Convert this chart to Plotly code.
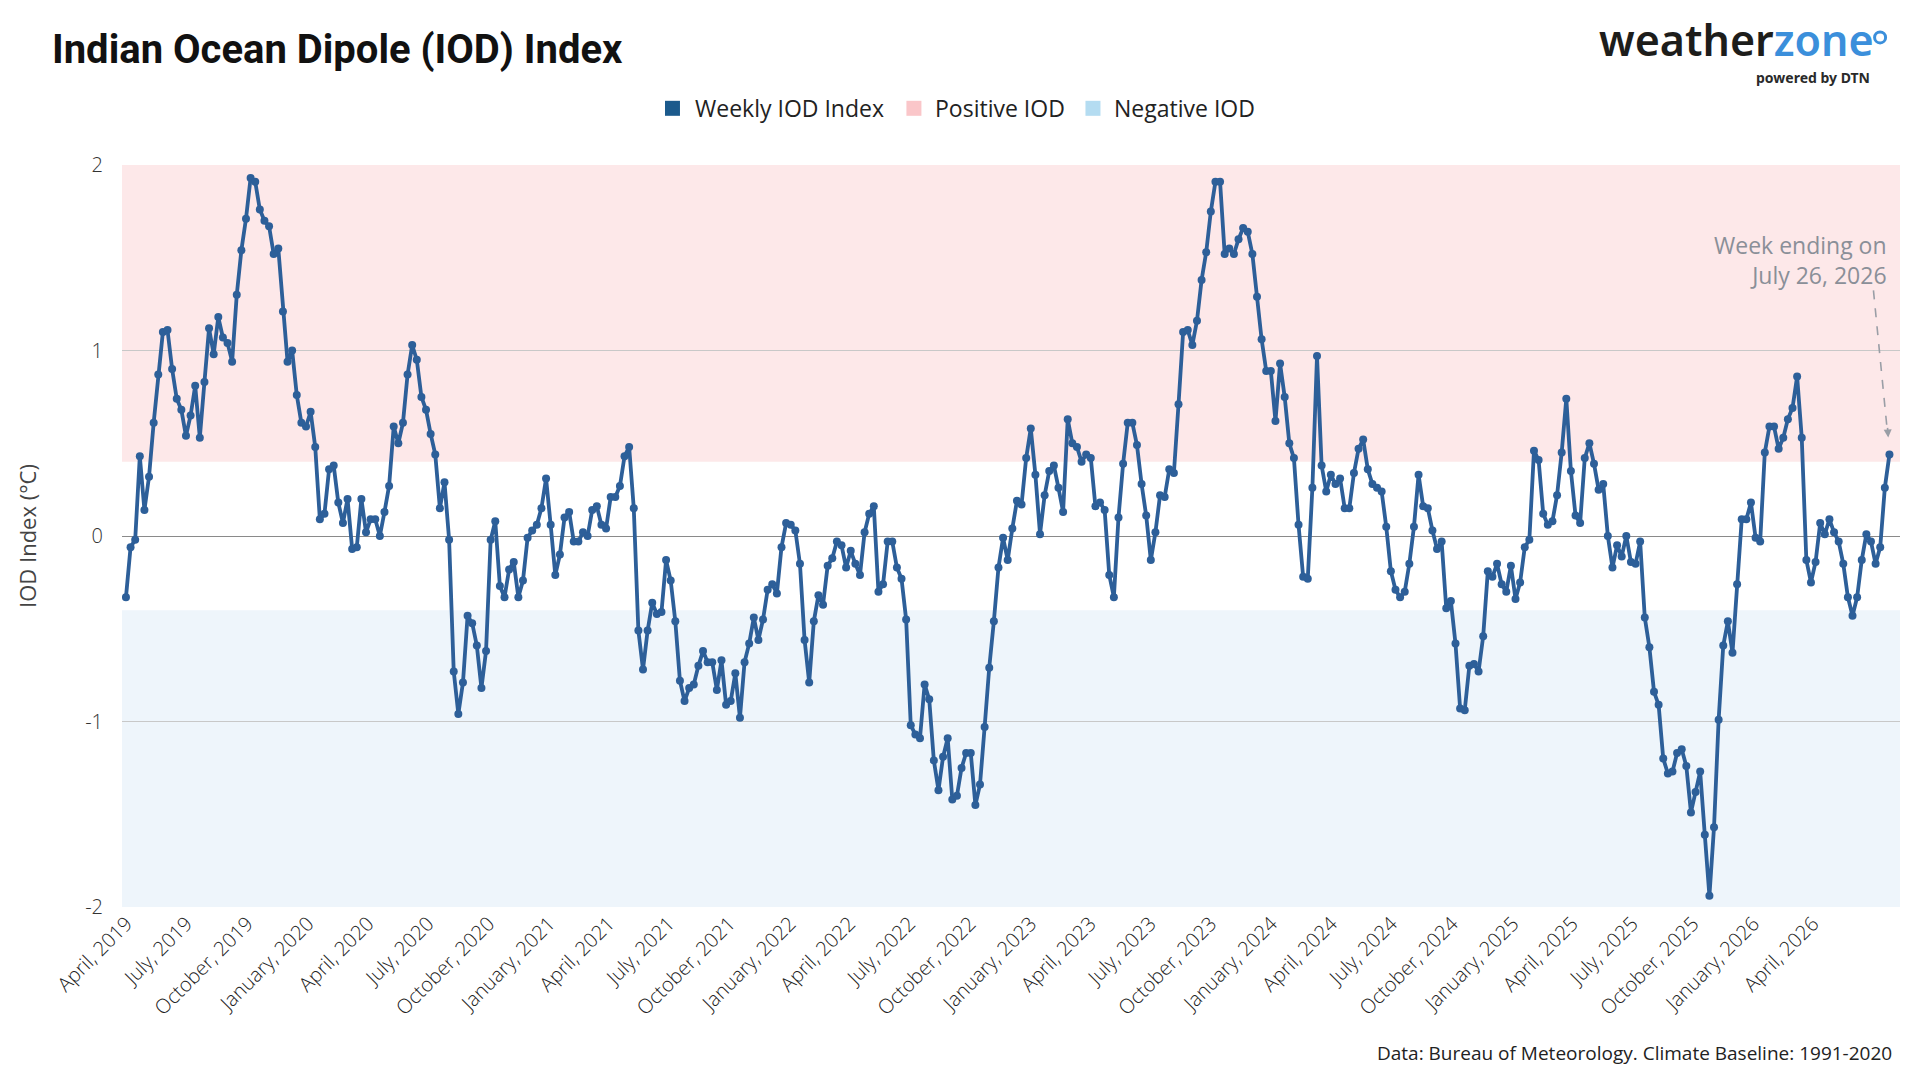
import pandas as pd
import plotly.graph_objects as go

# ---- Weekly IOD index values (°C), grouped by calendar year of the week-ending date ----
iod_2019 = [-0.33, -0.06, -0.02, 0.43, 0.14, 0.32, 0.61, 0.87, 1.10, 1.11,
            0.90, 0.74, 0.68, 0.54, 0.65, 0.81, 0.53, 0.83, 1.12, 0.98,
            1.18, 1.07, 1.04, 0.94, 1.30, 1.54, 1.71, 1.93, 1.91, 1.76,
            1.70, 1.67, 1.52, 1.55, 1.21, 0.94, 1.00, 0.76, 0.61, 0.59]
iod_2020 = [0.67, 0.48, 0.09, 0.12, 0.36, 0.38, 0.18, 0.07, 0.20, -0.07,
            -0.06, 0.20, 0.02, 0.09, 0.09, 0.00, 0.13, 0.27, 0.59, 0.50,
            0.61, 0.87, 1.03, 0.95, 0.75, 0.68, 0.55, 0.44, 0.15, 0.29,
            -0.02, -0.73, -0.96, -0.79, -0.43, -0.47, -0.59, -0.82, -0.62, -0.02,
            0.08, -0.27, -0.33, -0.18, -0.14, -0.33, -0.24, -0.01, 0.03, 0.06,
            0.15, 0.31]
iod_2021 = [0.06, -0.21, -0.10, 0.10, 0.13, -0.03, -0.03, 0.02,
            0.00, 0.14, 0.16, 0.06, 0.04, 0.21, 0.21, 0.27, 0.43, 0.48,
            0.15, -0.51, -0.72, -0.51, -0.36, -0.42, -0.41, -0.13, -0.24, -0.46,
            -0.78, -0.89, -0.82, -0.80, -0.70, -0.62, -0.68, -0.68, -0.83, -0.67,
            -0.91, -0.89, -0.74, -0.98, -0.68, -0.58, -0.44, -0.56, -0.45, -0.29,
            -0.26, -0.31, -0.06, 0.07]
iod_2022 = [0.06, 0.03, -0.15, -0.56, -0.79, -0.46,
            -0.32, -0.37, -0.16, -0.12, -0.03, -0.05, -0.17, -0.08, -0.15, -0.21,
            0.02, 0.12, 0.16, -0.30, -0.26, -0.03, -0.03, -0.17, -0.23, -0.45,
            -1.02, -1.07, -1.09, -0.80, -0.88, -1.21, -1.37, -1.19, -1.09, -1.42,
            -1.40, -1.25, -1.17, -1.17, -1.45, -1.34, -1.03, -0.71, -0.46, -0.17,
            -0.01, -0.13, 0.04, 0.19, 0.17, 0.42]
iod_2023 = [0.58, 0.33, 0.01, 0.22,
            0.35, 0.38, 0.26, 0.13, 0.63, 0.50, 0.48, 0.40, 0.44, 0.42,
            0.16, 0.18, 0.14, -0.21, -0.33, 0.10, 0.39, 0.61, 0.61, 0.49,
            0.28, 0.11, -0.13, 0.02, 0.22, 0.21, 0.36, 0.34, 0.71, 1.10,
            1.11, 1.03, 1.16, 1.38, 1.53, 1.75, 1.91, 1.91, 1.52, 1.55,
            1.52, 1.60, 1.66, 1.64, 1.52, 1.29, 1.06, 0.89, 0.89]
iod_2024 = [0.62,
            0.93, 0.75, 0.50, 0.42, 0.06, -0.22, -0.23, 0.26, 0.97, 0.38,
            0.24, 0.33, 0.28, 0.31, 0.15, 0.15, 0.34, 0.47, 0.52, 0.36,
            0.28, 0.26, 0.24, 0.05, -0.19, -0.29, -0.33, -0.30, -0.15, 0.05,
            0.33, 0.16, 0.15, 0.03, -0.07, -0.03, -0.39, -0.35, -0.58, -0.93,
            -0.94, -0.70, -0.69, -0.73, -0.54, -0.19, -0.22, -0.15, -0.26, -0.30,
            -0.16]
iod_2025 = [-0.34, -0.25, -0.06, -0.02, 0.46, 0.41, 0.12, 0.06, 0.08,
            0.22, 0.45, 0.74, 0.35, 0.11, 0.07, 0.42, 0.50, 0.39, 0.25,
            0.28, 0.00, -0.17, -0.05, -0.11, 0.00, -0.14, -0.15, -0.03, -0.44,
            -0.60, -0.84, -0.91, -1.20, -1.28, -1.27, -1.17, -1.15, -1.24, -1.49,
            -1.38, -1.27, -1.61, -1.94, -1.57, -0.99, -0.59, -0.46, -0.63, -0.26,
            0.09, 0.09, 0.18]
iod_2026 = [-0.01, -0.03, 0.45, 0.59, 0.59, 0.47, 0.53,
            0.63, 0.69, 0.86, 0.53, -0.13, -0.25, -0.14, 0.07, 0.01, 0.09,
            0.02, -0.03, -0.15, -0.33, -0.43, -0.33, -0.13, 0.01, -0.03, -0.15,
            -0.06, 0.26, 0.44]

iod_values = iod_2019 + iod_2020 + iod_2021 + iod_2022 + iod_2023 + iod_2024 + iod_2025 + iod_2026
last_week_ending = "2026-07-26"
week_ending = pd.date_range(end=last_week_ending, periods=len(iod_values), freq="7D")

positive_threshold = 0.4
negative_threshold = -0.4
y_tick_values = [-2, -1, 0, 1, 2]
y_tick_labels = ["-2", "-1", "0", "1", "2"]
x_tick_dates = pd.date_range("2019-04-01", "2026-04-01", freq="QS")
x_tick_labels = [f"{d.strftime('%B')}, {d.year}" for d in x_tick_dates]

legend_names = ["Weekly IOD Index", "Positive IOD", "Negative IOD"]
legend_colors = ["#1b5a8c", "#fac6c9", "#b4dcf1"]

line_color = "#2d5f99"
pink_band = "#fde8e9"
blue_band = "#eef5fb"
grey_text = "#8a8f98"

fig = go.Figure()

fig.add_trace(go.Scatter(
    x=week_ending, y=iod_values, mode="lines+markers", name="Weekly IOD Index",
    line=dict(color=line_color, width=3.8),
    marker=dict(color=line_color, size=8),
    showlegend=False, hoverinfo="x+y",
))

# bands
fig.add_shape(type="rect", xref="paper", yref="y", x0=0, x1=1, y0=positive_threshold, y1=2,
              fillcolor=pink_band, line=dict(width=0), layer="below")
fig.add_shape(type="rect", xref="paper", yref="y", x0=0, x1=1, y0=-2, y1=negative_threshold,
              fillcolor=blue_band, line=dict(width=0), layer="below")

# legend (square swatches + labels, laid out like the original)
legend_swatch_x = [0.3096, 0.4454, 0.5461]
legend_text_x = [0.3211, 0.4561, 0.5568]
legend_y = 1.0764
for name, col, sx, tx in zip(legend_names, legend_colors, legend_swatch_x, legend_text_x):
    fig.add_shape(type="rect", xref="paper", yref="paper", xsizemode="pixel", ysizemode="pixel",
                  xanchor=sx, yanchor=legend_y, x0=-7.5, x1=7.5, y0=-7.5, y1=7.5,
                  fillcolor=col, line=dict(width=0))
    fig.add_annotation(xref="paper", yref="paper", x=tx, y=legend_y, xanchor="left", yanchor="middle",
                       text=name, showarrow=False,
                       font=dict(family="Open Sans", size=23, color="#222222"))

last_x = week_ending[-1]
last_y = iod_values[-1]

# dashed pointer to the latest week
fig.add_shape(type="line", xref="x", yref="y", xsizemode="pixel", ysizemode="pixel",
              xanchor=last_x, yanchor=last_y, x0=-16, x1=-2, y0=164, y1=22,
              line=dict(color="#9a9ea6", width=1.6, dash="dash"))
fig.add_annotation(x=last_x, y=last_y, xref="x", yref="y", text="", showarrow=True,
                   arrowhead=2, arrowsize=1, arrowwidth=1.6, arrowcolor="#9a9ea6",
                   ax=-2, ay=-28, standoff=17)
fig.add_annotation(x=last_x, y=1.49, xref="x", yref="y", xanchor="right", yanchor="middle",
                   text="Week ending on<br>July 26, 2026", align="right", showarrow=False,
                   font=dict(family="Open Sans", size=23, color=grey_text))

# title
fig.add_annotation(xref="paper", yref="paper", x=-0.0405, y=1.155, xanchor="left", yanchor="middle",
                   text="<b>Indian Ocean Dipole (IOD) Index</b>", showarrow=False,
                   font=dict(family="Liberation Sans Narrow, Roboto", size=40, color="#111111"))
# logo
fig.add_annotation(xref="paper", yref="paper", x=0.9865, y=1.169, xanchor="right", yanchor="middle",
                   text="weather<span style='color:#3b8fdb'>zone</span>", showarrow=False,
                   font=dict(family="Noto Sans", size=43, color="#1d1d1b", weight=600))
fig.add_annotation(xref="paper", yref="paper", x=0.9843, y=1.118, xanchor="right", yanchor="middle",
                   text="<b>powered by DTN</b>", showarrow=False,
                   font=dict(family="Noto Sans", size=14, color="#2a2a2a"))
fig.add_shape(type="circle", xref="paper", yref="paper", xsizemode="pixel", ysizemode="pixel",
              xanchor=0.9888, yanchor=1.172, x0=-5.5, x1=5.5, y0=-5.5, y1=5.5,
              line=dict(color="#3b8fdb", width=3))
fig.add_shape(type="path", xref="paper", yref="paper", xsizemode="pixel", ysizemode="pixel",
              xanchor=0.9888, yanchor=1.172, path="M -5.5 0 A 5.5 5.5 0 0 0 5.5 0",
              line=dict(color="#6cc04a", width=3))
# source
fig.add_annotation(xref="paper", yref="paper", x=0.9966, y=-0.1967, xanchor="right", yanchor="middle",
                   text="Data: Bureau of Meteorology. Climate Baseline: 1991-2020", showarrow=False,
                   font=dict(family="Open Sans", size=19, color="#222222"))

fig.update_layout(
    width=1920, height=1080,
    margin=dict(l=122, r=20, t=165, b=173),
    plot_bgcolor="white", paper_bgcolor="white",
    font=dict(family="Open Sans", color="#333333"),
    showlegend=False,
    xaxis=dict(
        type="date",
        range=[week_ending[0] - pd.Timedelta(days=6), week_ending[-1] + pd.Timedelta(days=16)],
        tickmode="array", tickvals=x_tick_dates, ticktext=x_tick_labels, tickangle=-45,
        showgrid=False, zeroline=False, showline=False,
        ticks="", ticklen=0,
        tickfont=dict(family="Open Sans", size=20, color="#222222", weight=300),
    ),
    yaxis=dict(
        range=[-2, 2], tickmode="array", tickvals=y_tick_values, ticktext=y_tick_labels,
        showgrid=True, gridcolor="#c8c8c8", gridwidth=1,
        zeroline=True, zerolinecolor="#8a8a8a", zerolinewidth=1,
        ticks="outside", ticklen=14, tickcolor="rgba(0,0,0,0)",
        tickfont=dict(family="Open Sans", size=20, color="#333333", weight=300),
        title=dict(text="IOD Index (°C)", standoff=42,
                   font=dict(family="Open Sans", size=22, color="#444444")),
    ),
)

fig.write_html("out.html")
